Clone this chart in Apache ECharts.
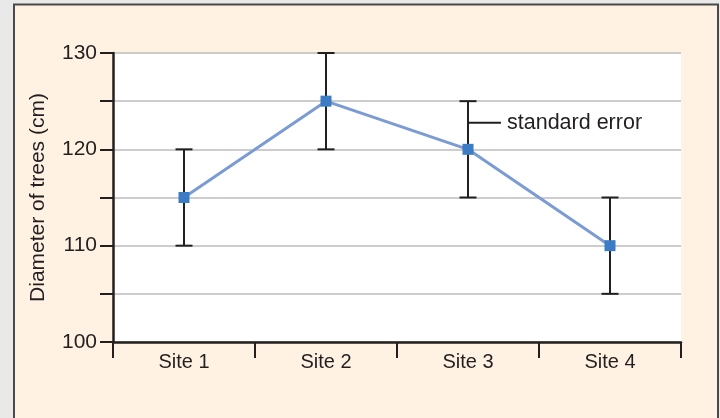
<!DOCTYPE html>
<html>
<head>
<meta charset="utf-8">
<script src="https://cdn.jsdelivr.net/npm/echarts@6/dist/echarts.min.js"></script>
<style>
html,body{margin:0;padding:0;background:#e9e9e9;}
#c{width:720px;height:418px;}
</style>
</head>
<body>
<div id="c"></div>
<script>
const categories = ['Site 1', 'Site 2', 'Site 3', 'Site 4'];
const meanDiameter = [115, 125, 120, 110];
const standardError = [5, 5, 5, 5];
const yTicks = [100, 110, 120, 130];
const annotation = { site: 2, value: 122.75, text: 'standard error' };

const textColor = '#231f20';
const fontFamily = 'Liberation Sans, Arial, Helvetica, sans-serif';

const errData = categories.map((c, i) => [i, meanDiameter[i] - standardError[i], meanDiameter[i] + standardError[i]]);

const chart = echarts.init(document.getElementById('c'), null, { renderer: 'canvas' });
chart.setOption({
  backgroundColor: '#e9e9e9',
  animation: false,
  graphic: [
    { type: 'rect', z: -10, shape: { x: 14, y: 4.5, width: 704, height: 430 },
      style: { fill: '#fff2e2', stroke: '#4a4a4a', lineWidth: 2 } },
    { type: 'rect', z: -9, shape: { x: 113, y: 53, width: 568, height: 289 },
      style: { fill: '#ffffff' } }
  ],
  grid: { left: 113, right: 39, top: 53, bottom: 76, containLabel: false },
  xAxis: {
    type: 'category',
    data: categories,
    boundaryGap: true,
    axisLine: { lineStyle: { color: textColor, width: 2.5 } },
    axisTick: { show: true, length: 16, lineStyle: { color: textColor, width: 2 } },
    axisLabel: { color: textColor, fontSize: 20, fontFamily, margin: 10 },
    splitLine: { show: false }
  },
  yAxis: {
    type: 'value',
    min: 100, max: 130, interval: 5,
    name: 'Diameter of trees (cm)',
    nameLocation: 'middle',
    nameGap: 64,
    nameTextStyle: { color: textColor, fontSize: 21, fontFamily },
    axisLine: { show: true, lineStyle: { color: textColor, width: 2.5 } },
    axisTick: { show: true, length: 13, lineStyle: { color: textColor, width: 2 } },
    axisLabel: {
      color: textColor, fontSize: 21, fontFamily, margin: 16,
      formatter: v => (yTicks.indexOf(v) >= 0 ? String(v) : '')
    },
    splitLine: { show: true, lineStyle: { color: '#bdbdbd', width: 1.5 } }
  },
  series: [
    {
      type: 'custom',
      name: 'error',
      z: 2,
      clip: false,
      data: errData,
      renderItem: function (params, api) {
        const x = api.value(0);
        const lo = api.coord([x, api.value(1)]);
        const hi = api.coord([x, api.value(2)]);
        const hw = 8.5;
        const st = { stroke: textColor, lineWidth: 2 };
        return {
          type: 'group',
          children: [
            { type: 'line', shape: { x1: lo[0], y1: lo[1], x2: hi[0], y2: hi[1] }, style: st },
            { type: 'line', shape: { x1: lo[0] - hw, y1: lo[1], x2: lo[0] + hw, y2: lo[1] }, style: st },
            { type: 'line', shape: { x1: hi[0] - hw, y1: hi[1], x2: hi[0] + hw, y2: hi[1] }, style: st }
          ]
        };
      }
    },
    {
      type: 'custom',
      name: 'annotation',
      z: 2,
      clip: false,
      data: [[annotation.site, annotation.value]],
      renderItem: function (params, api) {
        const p = api.coord([api.value(0), api.value(1)]);
        return {
          type: 'group',
          children: [
            { type: 'line', shape: { x1: p[0], y1: p[1], x2: p[0] + 33, y2: p[1] },
              style: { stroke: textColor, lineWidth: 2 } },
            { type: 'text', x: p[0] + 39, y: p[1],
              style: { text: annotation.text, fill: textColor, fontSize: 21.5, fontFamily,
                       textVerticalAlign: 'middle', verticalAlign: 'middle', textAlign: 'left', align: 'left' } }
          ]
        };
      }
    },
    {
      type: 'line',
      name: 'mean',
      z: 3,
      data: meanDiameter,
      symbol: 'rect',
      symbolSize: 11,
      lineStyle: { color: '#7b9bd5', width: 3 },
      itemStyle: { color: '#3b7cc4' }
    }
  ]
});
</script>
</body>
</html>
